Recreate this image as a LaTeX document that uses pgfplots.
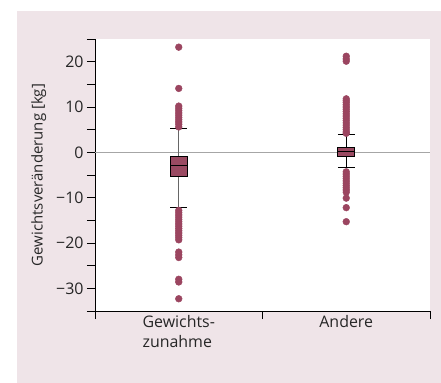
\documentclass[border=0pt]{standalone}
\usepackage{fontspec}
\setmainfont{Open Sans}
\usepackage{pgfplots}
\pgfplotsset{compat=1.18}
\definecolor{bg}{HTML}{EFE4E8}
\definecolor{boxc}{HTML}{9A4A62}
\definecolor{ptc}{HTML}{9B4560}
\begin{document}
\begin{tikzpicture}
\useasboundingbox (0bp,0bp) rectangle (441bp,383bp);
\fill[bg] (17bp,0bp) rectangle (441bp,372bp);
\begin{axis}[
  at={(95bp,72bp)}, anchor=south west,
  scale only axis, width=335bp, height=272bp,
  xmin=0, xmax=2, ymin=-35, ymax=25,
  axis lines=left, axis line style={-, black, line width=0.8pt},
  axis background/.style={fill=white},
  xtick={0,1,2}, xticklabels={},
  extra x ticks={0.5,1.5}, extra x tick labels={Gewichts-\\zunahme,Andere},
  extra x tick style={major tick length=0pt, xticklabel style={align=left, yshift=-1bp}},
  ytick={-30,-20,...,20}, yticklabels={−30,−20,−10,0,10,20},
  minor ytick={-35,-25,...,25},
  tick align=outside, major tick length=8bp, minor tick length=8bp,
  tick style={black, line width=0.7pt},
  tick label style={font=\fontsize{16}{20}\selectfont, text=black!85},
  ylabel={Gewichtsveränderung [kg]},
  ylabel style={font=\fontsize{15}{18}\selectfont, text=black!85, yshift=3bp},
  clip=false,
]
\addplot[gray!70, line width=0.6pt] coordinates {(0,0) (2,0)};
% group 1
\addplot[black!60, line width=1pt] coordinates {(0.5,-12.2) (0.5,-5.4)};
\addplot[black!60, line width=1pt] coordinates {(0.5,-1.0) (0.5,5.25)};
\addplot[black, line width=0.8pt] coordinates {(0.45,-12.2) (0.55,-12.2)};
\addplot[black, line width=0.8pt] coordinates {(0.45,5.25) (0.55,5.25)};
\addplot[draw=black, fill=boxc, line width=0.8pt] coordinates {(0.45,-5.4) (0.55,-5.4) (0.55,-1.0) (0.45,-1.0)} -- cycle;
\addplot[black, line width=0.8pt] coordinates {(0.45,-2.95) (0.55,-2.95)};
\addplot[only marks, mark=*, mark size=3.4bp, draw=ptc, fill=ptc] table[row sep=\\] {x y\\
0.5 23.2\\0.5 14.1\\0.5 10.2\\0.5 9.7\\0.5 9.2\\0.5 8.7\\0.5 8.2\\0.5 7.7\\0.5 7.2\\0.5 6.7\\0.5 6.2\\0.5 5.6\\
0.5 -12.8\\0.5 -13.3\\0.5 -13.8\\0.5 -14.3\\0.5 -14.8\\0.5 -15.3\\0.5 -15.8\\0.5 -16.3\\0.5 -16.8\\0.5 -17.3\\0.5 -17.8\\0.5 -18.3\\0.5 -18.8\\0.5 -19.3\\
0.5 -22.0\\0.5 -22.6\\0.5 -23.2\\0.5 -28.0\\0.5 -28.6\\0.5 -32.3\\};
% group 2
\addplot[black, line width=1pt] coordinates {(1.5,-3.4) (1.5,-1.0)};
\addplot[black, line width=1pt] coordinates {(1.5,1.0) (1.5,3.9)};
\addplot[black, line width=0.8pt] coordinates {(1.45,-3.4) (1.55,-3.4)};
\addplot[black, line width=0.8pt] coordinates {(1.45,3.9) (1.55,3.9)};
\addplot[draw=black, fill=boxc, line width=0.8pt] coordinates {(1.45,-1.0) (1.55,-1.0) (1.55,1.0) (1.45,1.0)} -- cycle;
\addplot[black, line width=0.8pt] coordinates {(1.45,0.2) (1.55,0.2)};
\addplot[only marks, mark=*, mark size=3.4bp, draw=ptc, fill=ptc] table[row sep=\\] {x y\\
1.5 21.2\\1.5 20.6\\1.5 20.1\\1.5 11.8\\1.5 11.4\\1.5 11.0\\1.5 10.5\\1.5 10.0\\1.5 9.5\\1.5 9.0\\1.5 8.5\\1.5 8.0\\1.5 7.5\\1.5 7.0\\1.5 6.5\\1.5 6.0\\1.5 5.5\\1.5 5.0\\1.5 4.5\\1.5 4.2\\
1.5 -4.3\\1.5 -4.8\\1.5 -5.3\\1.5 -5.8\\1.5 -6.3\\1.5 -6.8\\1.5 -7.3\\1.5 -7.8\\1.5 -8.3\\1.5 -8.8\\1.5 -10.1\\1.5 -12.2\\1.5 -15.3\\};
\end{axis}
\end{tikzpicture}
\end{document}
